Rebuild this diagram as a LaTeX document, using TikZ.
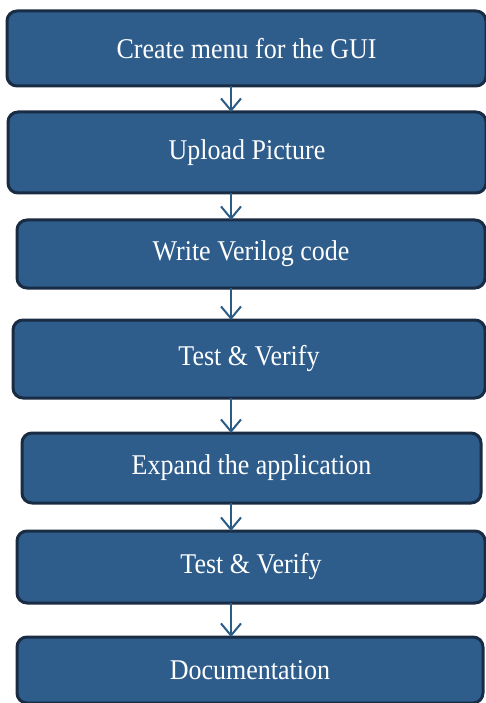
\documentclass[tikz,border=0pt]{standalone}
\usepackage{fontspec}
\setmainfont{Liberation Serif}
\usetikzlibrary{arrows.meta}
\definecolor{boxfill}{HTML}{2E5D8C}
\definecolor{boxline}{HTML}{1A2C43}
\definecolor{arrcol}{HTML}{2B5C86}
\newcommand{\tallt}[1]{\scalebox{1}[1.1]{#1}}
\begin{document}
\begin{tikzpicture}[x=1pt,y=1pt,
  stepbox/.style={draw=boxline, line width=3pt, fill=boxfill, rounded corners=10pt,
    text=white, font=\fontsize{26}{30}\selectfont, inner sep=0pt, outer sep=0pt},
  arr/.style={draw=arrcol, line width=2pt,
    -{Straight Barb[length=12pt,width=20pt,line width=2pt]}}]
\useasboundingbox (0,0) rectangle (486,-703);
\fill[white] (0,0) rectangle (486,-703);
\node[stepbox, minimum width=479pt, minimum height=75pt] (b1) at (246.5,-48.5) {\tallt{Create menu for the GUI}};
\node[stepbox, minimum width=478pt, minimum height=81pt] (b2) at (247,-152.5) {\tallt{Upload Picture}};
\node[stepbox, minimum width=468pt, minimum height=68pt] (b3) at (251,-254) {\tallt{Write Verilog code}};
\node[stepbox, minimum width=472pt, minimum height=78pt] (b4) at (249,-359) {\tallt{Test \& Verify}};
\node[stepbox, minimum width=459pt, minimum height=70pt] (b5) at (251.5,-468) {\tallt{Expand the application}};
\node[stepbox, minimum width=468pt, minimum height=72pt] (b6) at (251,-567) {\tallt{Test \& Verify}};
\node[stepbox, minimum width=466pt, minimum height=66pt] (b7) at (250,-670) {\tallt{Documentation}};
\coordinate (ax) at (231,0);
\draw[arr] (b1.south -| ax) -- (b2.north -| ax);
\draw[arr] (b2.south -| ax) -- (b3.north -| ax);
\draw[arr] (b3.south -| ax) -- (b4.north -| ax);
\draw[arr] (b4.south -| ax) -- (b5.north -| ax);
\draw[arr] (b5.south -| ax) -- (b6.north -| ax);
\draw[arr] (b6.south -| ax) -- (b7.north -| ax);
\end{tikzpicture}
\end{document}
